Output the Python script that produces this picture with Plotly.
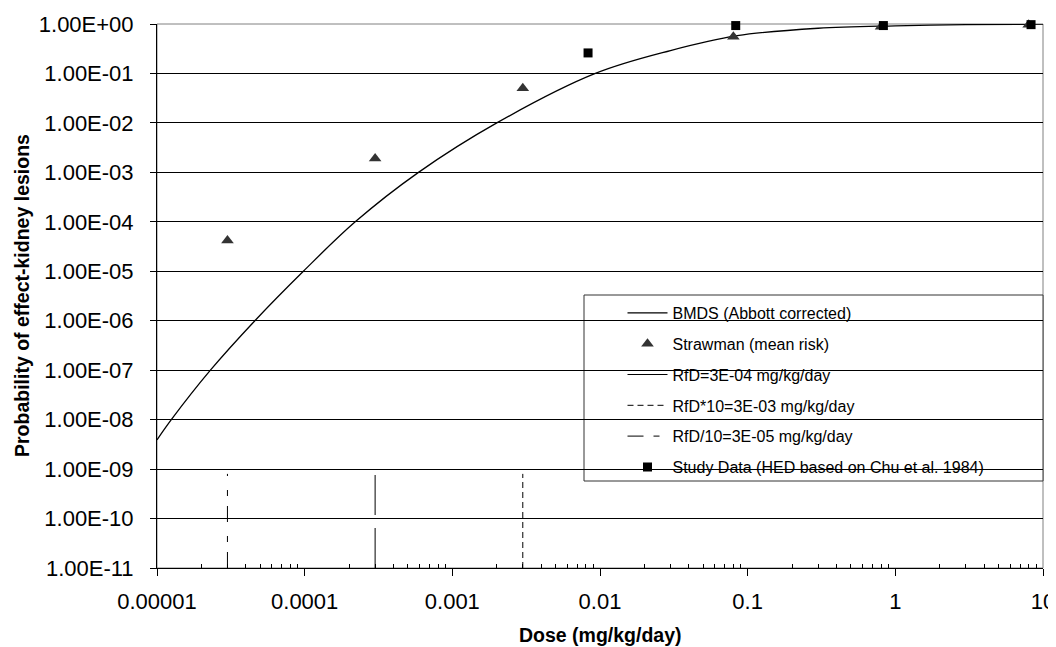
import plotly.graph_objects as go

# ---------------- data ----------------
bmds_dose = [1e-5, 1.25e-5, 2.3e-5, 4.6e-5, 9.8e-5, 2.2e-4, 5.9e-4, 2.0e-3,
             9.3e-3, 0.03, 0.085, 0.3, 1.0, 3.0, 10.0]
bmds_prob = [3.9e-9, 1e-8, 1e-7, 1e-6, 1e-5, 1e-4, 1e-3, 1e-2,
             0.1, 0.29, 0.58, 0.82, 0.92, 0.97, 0.99]

straw_dose = [3e-5, 3e-4, 3e-3, 0.08, 0.8, 8.0]
straw_prob = [4.2e-5, 1.9e-3, 0.05, 0.55, 0.88, 0.97]

study_dose = [0.0083, 0.083, 0.83, 8.3]
study_prob = [0.26, 0.93, 0.93, 0.97]

rfd_dose = [3e-4, 3e-4]
rfd10x_dose = [3e-3, 3e-3]
rfd_div10_dose = [3e-5, 3e-5]
rfd_line_prob = [1e-11, 8e-10]

x_tickvals = [1e-5, 1e-4, 1e-3, 1e-2, 1e-1, 1, 10]
x_ticktext = ["0.00001", "0.0001", "0.001", "0.01", "0.1", "1", "10"]
y_tickvals = [1, 1e-1, 1e-2, 1e-3, 1e-4, 1e-5, 1e-6, 1e-7, 1e-8, 1e-9, 1e-10, 1e-11]
y_ticktext = ["1.00E+00", "1.00E-01", "1.00E-02", "1.00E-03", "1.00E-04", "1.00E-05",
              "1.00E-06", "1.00E-07", "1.00E-08", "1.00E-09", "1.00E-10", "1.00E-11"]
minor_x = [m * d for d in [1e-5, 1e-4, 1e-3, 1e-2, 1e-1, 1] for m in range(2, 10)]

FONT = "Liberation Sans, Arial, sans-serif"

fig = go.Figure()
fig.add_trace(go.Scatter(x=bmds_dose, y=bmds_prob, mode="lines", name="BMDS (Abbott corrected)",
                         line=dict(color="black", width=1.3, shape="spline"), legendgroup="a"))
fig.add_trace(go.Scatter(x=straw_dose, y=straw_prob, mode="markers", name="Strawman (mean risk)",
                         marker=dict(symbol="triangle-up", size=11, color="#333333"),
                         legendgroup="b", cliponaxis=False))
fig.add_trace(go.Scatter(x=rfd_dose, y=rfd_line_prob, mode="lines", name="RfD=3E-04 mg/kg/day",
                         line=dict(color="black", width=1, dash="40px,13px"), legendgroup="c"))
fig.add_trace(go.Scatter(x=rfd10x_dose, y=rfd_line_prob, mode="lines", name="RfD*10=3E-03 mg/kg/day",
                         line=dict(color="black", width=1, dash="6px,4px"), legendgroup="d"))
fig.add_trace(go.Scatter(x=rfd_div10_dose, y=rfd_line_prob, mode="lines", name="RfD/10=3E-05 mg/kg/day",
                         line=dict(color="black", width=1, dash="16px,10px,6px,14px"), legendgroup="e"))
fig.add_trace(go.Scatter(x=study_dose, y=study_prob, mode="markers",
                         name="Study Data (HED based on Chu et al. 1984)",
                         marker=dict(symbol="square", size=9, color="black"),
                         legendgroup="f", cliponaxis=False))

# page body has an 8px margin, so the figure is drawn 8px right/down
OFF = 8
W, H = 1056 - OFF, 647 - OFF
PL, PR, PT, PB = 157, 1043, 24, 568          # plot area in page pixels
L, T = PL - OFF, PT - OFF
R, B = W - (PR - OFF), H - (PB - OFF)
pw, ph = PR - PL, PB - PT

def px_x(p):
    return (p - PL) / pw

def px_y(p):
    return (PB - p) / ph

fig.update_layout(
    width=W, height=H,
    margin=dict(l=L, r=R, t=T, b=B, pad=0, autoexpand=False),
    paper_bgcolor="white", plot_bgcolor="white",
    font=dict(family=FONT, color="black"),
    showlegend=True,
    legend=dict(x=px_x(622.5), xanchor="left", y=px_y(296), yanchor="top",
                bgcolor="rgba(0,0,0,0)", borderwidth=0,
                font=dict(family=FONT, size=16, color="black"),
                tracegroupgap=7, itemwidth=40, traceorder="grouped"),
    xaxis=dict(type="log", range=[-5, 1], tickmode="array", tickvals=x_tickvals, ticktext=x_ticktext,
               ticks="outside", ticklen=7, tickcolor="black", tickwidth=1, automargin=False,
               showline=True, linecolor="black", linewidth=1, showgrid=False, zeroline=False,
               tickfont=dict(family=FONT, size=22, color="black"), ticklabelstandoff=7,
               minor=dict(tickmode="array", tickvals=minor_x, ticks="inside", ticklen=4,
                          tickcolor="black", tickwidth=1, showgrid=False)),
    yaxis=dict(type="log", range=[-11, 0], tickmode="array", tickvals=y_tickvals, ticktext=y_ticktext,
               ticks="outside", ticklen=6, tickcolor="black", tickwidth=1, automargin=False,
               showline=True, linecolor="black", linewidth=1, showgrid=True,
               gridcolor="black", gridwidth=1, zeroline=False,
               tickfont=dict(family=FONT, size=22, color="black"), ticklabelstandoff=12),
    shapes=[
        dict(type="rect", xref="paper", yref="paper", x0=0, x1=1, y0=0, y1=1,
             line=dict(color="#808080", width=1), fillcolor="rgba(0,0,0,0)", layer="between"),
        dict(type="rect", xref="paper", yref="paper", x0=px_x(584), x1=1, y0=px_y(481), y1=px_y(295),
             line=dict(color="#333333", width=1), fillcolor="white", layer="between"),
    ],
    annotations=[
        dict(text="<b>Dose (mg/kg/day)</b>", xref="paper", yref="paper", x=0.5, y=px_y(635),
             xanchor="center", yanchor="middle", showarrow=False,
             font=dict(family=FONT, size=19.5, color="black")),
        dict(text="<b>Probability of effect-kidney lesions</b>", xref="paper", yref="paper",
             x=px_x(22), y=0.5, xanchor="center", yanchor="middle", textangle=-90, showarrow=False,
             font=dict(family=FONT, size=19.5, color="black")),
    ],
)

fig.write_html("out.html")
